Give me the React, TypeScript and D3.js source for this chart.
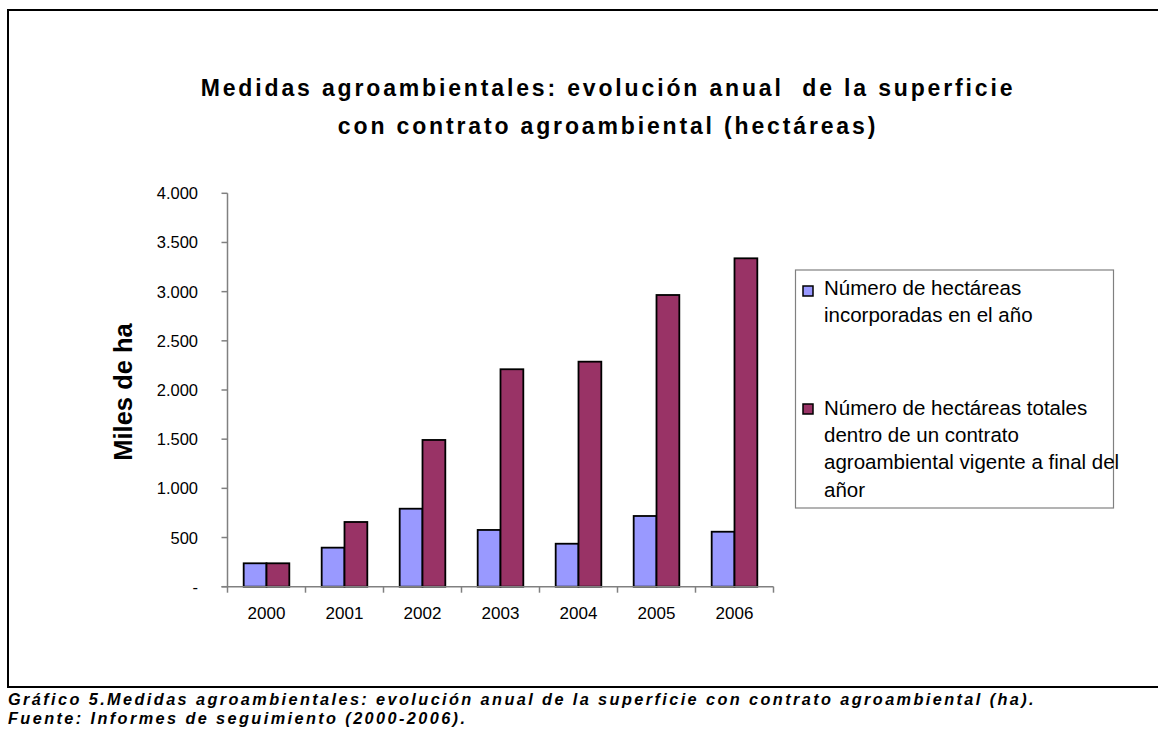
import React from "react";
import * as d3 from "d3";

const years = ["2000", "2001", "2002", "2003", "2004", "2005", "2006"];
const incorporadas = [238, 397, 793, 577, 437, 719, 559];
const totales = [238, 658, 1492, 2211, 2288, 2966, 3339];
const seriesNames = [
  ["Número de hectáreas", "incorporadas en el año"],
  ["Número de hectáreas totales", "dentro de un contrato", "agroambiental vigente a final del", "añor"],
];
const seriesColors = ["#9999FF", "#993366"];
const yTicks = [0, 500, 1000, 1500, 2000, 2500, 3000, 3500, 4000];
const titleLines = [
  "Medidas agroambientales: evolución anual  de la superficie",
  "con contrato agroambiental (hectáreas)",
];
const captionLines = [
  "Gráfico 5.Medidas agroambientales: evolución anual de la superficie con contrato agroambiental (ha).",
  "Fuente: Informes de seguimiento (2000-2006).",
];
const yLabel = "Miles de ha";

const W = 1158;
const H = 729;
const font = "'Liberation Sans', Arial, Helvetica, sans-serif";

export default function App() {
  const x0 = d3.scaleBand<string>().domain(years).range([227.5, 773.5]).padding(0);
  const groupW = x0.bandwidth() * 0.585;
  const x1 = d3.scaleBand<number>().domain([0, 1]).range([0, groupW]).padding(0);
  const y = d3.scaleLinear().domain([0, 4000]).range([586.7, 193.3]);
  const loc = d3.formatLocale({ thousands: ".", grouping: [3], decimal: ",", currency: ["", "€"] });
  const fmt = loc.format(",d");
  const tickFmt = (v: number) => (v === 0 ? "-" : fmt(v));
  const series = [incorporadas, totales];
  const axisColor = "#808080";
  const xLeft = x0.range()[0];
  const xRight = x0.range()[1];
  const legendTops = [286, 404];
  const legendBase = [294.5, 415];

  return (
    <svg width={W} height={H} style={{ position: "absolute", left: 0, top: 0, background: "#fff" }} fontFamily={font}>
      <rect x={0} y={0} width={W} height={H} fill="#fff" />
      <path d={`M${W + 5},10 H8 V687 H${W + 5}`} fill="none" stroke="#000" strokeWidth={2} />

      {titleLines.map((t, i) => (
        <text
          key={i}
          x={608}
          y={95.7 + i * 38.5}
          textAnchor="middle"
          fontSize={23}
          fontWeight="bold"
          letterSpacing={2.85}
          fill="#000"
          style={{ whiteSpace: "pre" }}
        >
          {t}
        </text>
      ))}

      {/* y axis */}
      <line x1={xLeft} x2={xLeft} y1={y(4000)} y2={y(0)} stroke={axisColor} strokeWidth={1.5} />
      {yTicks.map((t) => (
        <g key={t}>
          <line x1={xLeft - 6} x2={xLeft} y1={y(t)} y2={y(t)} stroke={axisColor} strokeWidth={1.5} />
          <text x={198} y={y(t) + 6} textAnchor="end" fontSize={16.5} fill="#000">
            {tickFmt(t)}
          </text>
        </g>
      ))}
      <text transform={`translate(131.5,392) rotate(-90)`} textAnchor="middle" fontSize={25.5} fontWeight="bold" fill="#000">
        {yLabel}
      </text>

      {/* bars */}
      {years.map((yr, i) => {
        const gx = x0(yr)! + (x0.bandwidth() - groupW) / 2;
        return (
          <g key={yr}>
            {series.map((s, j) => (
              <rect
                key={j}
                x={gx + x1(j)!}
                y={y(s[i])}
                width={x1.bandwidth()}
                height={y(0) - y(s[i])}
                fill={seriesColors[j]}
                stroke="#000"
                strokeWidth={1.8}
              />
            ))}
          </g>
        );
      })}

      {/* x axis */}
      <line x1={xLeft - 6} x2={xRight} y1={y(0)} y2={y(0)} stroke={axisColor} strokeWidth={1.5} />
      {[...years.map((yr) => x0(yr)!), xRight].map((xx, i) => (
        <line key={i} x1={xx} x2={xx} y1={y(0)} y2={y(0) + 6} stroke={axisColor} strokeWidth={1.5} />
      ))}
      {years.map((yr) => (
        <text key={yr} x={x0(yr)! + x0.bandwidth() / 2} y={619.3} textAnchor="middle" fontSize={17} fill="#000">
          {yr}
        </text>
      ))}

      {/* legend */}
      <rect x={795.5} y={270} width={318} height={238} fill="#fff" stroke={axisColor} strokeWidth={1.2} />
      {seriesNames.map((lines, j) => (
        <g key={j}>
          <rect x={803} y={legendTops[j]} width={10} height={10} fill={seriesColors[j]} stroke="#000" strokeWidth={1.5} />
          {lines.map((l, k) => (
            <text key={k} x={824} y={legendBase[j] + k * 27.2} fontSize={20.5} fill="#000">
              {l}
            </text>
          ))}
        </g>
      ))}

      {captionLines.map((c, i) => (
        <text
          key={i}
          x={8}
          y={705 + i * 19}
          fontSize={16.3}
          fontWeight="bold"
          fontStyle="italic"
          letterSpacing={2.4}
          fill="#000"
        >
          {c}
        </text>
      ))}
    </svg>
  );
}
